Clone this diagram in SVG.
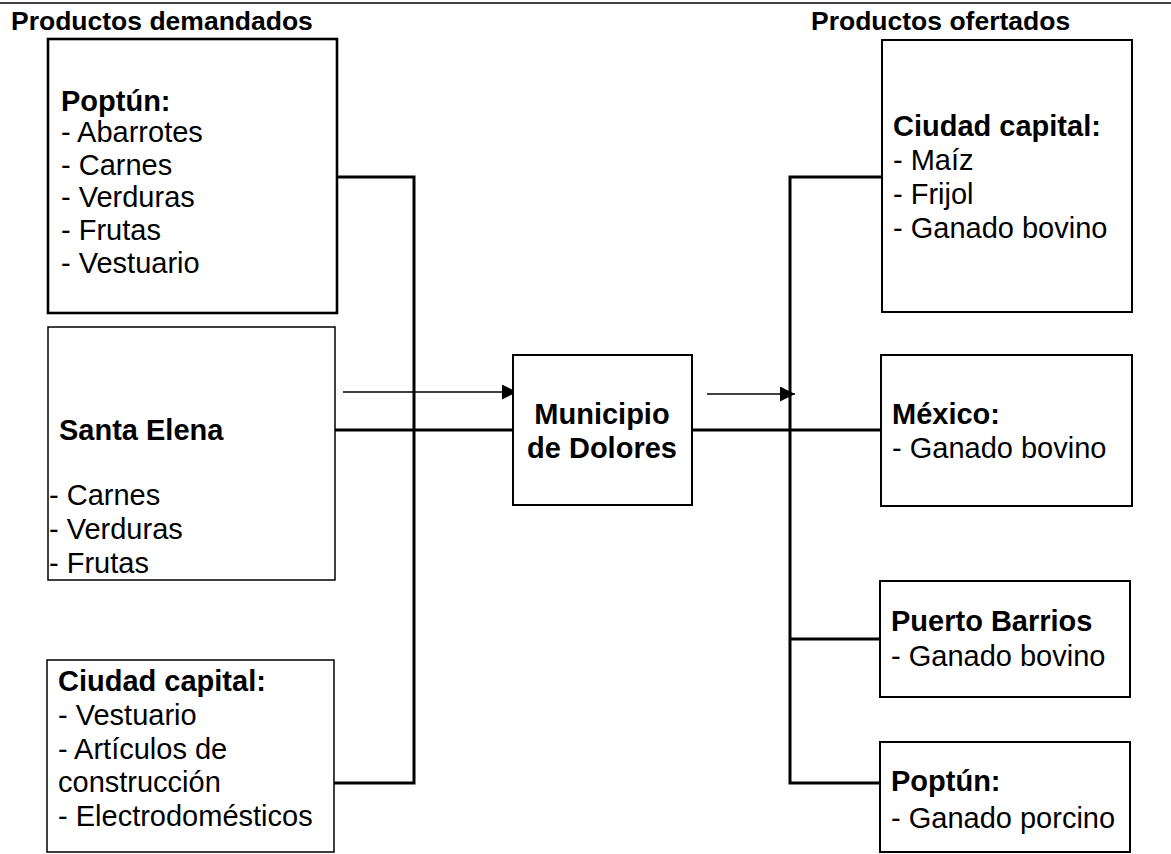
<svg xmlns="http://www.w3.org/2000/svg" width="1171" height="854" viewBox="0 0 1171 854">
<style>
.t{font-family:"Liberation Sans",Arial,sans-serif;font-size:29px;fill:#000}
.b{font-weight:bold}
.h{font-family:"Liberation Sans",Arial,sans-serif;font-size:26.5px;font-weight:bold;fill:#000}
.box{fill:#fff;stroke:#000;stroke-width:2}
.thick{stroke-width:2.6}
.thin{stroke-width:1.5}
.con{fill:none;stroke:#000;stroke-width:3}
.arr{fill:none;stroke:#000;stroke-width:1.6}
</style>
<defs>
<marker id="ah" markerUnits="userSpaceOnUse" markerWidth="16" markerHeight="16" refX="15" refY="7.5" orient="auto">
<path d="M0,0 L15,7.5 L0,15 Z" fill="#000"/>
</marker>
</defs>
<rect width="1171" height="854" fill="#fff"/>
<line x1="0" y1="3" x2="1171" y2="3" stroke="#000" stroke-width="1.5"/>
<text class="h" x="11" y="30">Productos demandados</text>
<text class="h" x="811" y="30">Productos ofertados</text>

<g id="connectors">
<polyline class="con" points="337,177 414,177 414,783 334,783"/>
<line class="con" x1="335" y1="430" x2="513" y2="430"/>
<line class="con" x1="692" y1="430" x2="881" y2="430"/>
<polyline class="con" points="882,177 790,177 790,783 880,783"/>
<line class="con" x1="790" y1="639" x2="880" y2="639"/>
<line class="arr" x1="343" y1="392" x2="517" y2="392" marker-end="url(#ah)"/>
<line class="arr" x1="707" y1="394" x2="795" y2="394" marker-end="url(#ah)"/>
</g>

<g id="poptun-dem">
<rect class="box thick" x="48" y="39" width="289" height="274"/>
<text class="t b" x="61" y="111">Poptún:</text>
<text class="t" x="61" y="142">- Abarrotes</text>
<text class="t" x="61" y="175">- Carnes</text>
<text class="t" x="61" y="207">- Verduras</text>
<text class="t" x="61" y="240">- Frutas</text>
<text class="t" x="61" y="273">- Vestuario</text>
</g>

<g id="santa-elena">
<rect class="box thin" x="48" y="327" width="287" height="253"/>
<text class="t b" x="59" y="440">Santa Elena</text>
<text class="t" x="49" y="505">- Carnes</text>
<text class="t" x="49" y="539">- Verduras</text>
<text class="t" x="49" y="573">- Frutas</text>
</g>

<g id="capital-dem">
<rect class="box thin" x="47" y="660" width="287" height="192"/>
<text class="t b" x="58" y="691">Ciudad capital:</text>
<text class="t" x="58" y="725">- Vestuario</text>
<text class="t" x="58" y="759">- Artículos de</text>
<text class="t" x="58" y="792">construcción</text>
<text class="t" x="58" y="826">- Electrodomésticos</text>
</g>

<g id="municipio">
<rect class="box" x="513" y="355" width="179" height="150"/>
<text class="t b" x="602" y="424" text-anchor="middle">Municipio</text>
<text class="t b" x="602" y="458" text-anchor="middle">de Dolores</text>
</g>

<g id="capital-of">
<rect class="box" x="882" y="40" width="250" height="272"/>
<text class="t b" x="893" y="136">Ciudad capital:</text>
<text class="t" x="893" y="170">- Maíz</text>
<text class="t" x="893" y="204">- Frijol</text>
<text class="t" x="893" y="238">- Ganado bovino</text>
</g>

<g id="mexico">
<rect class="box" x="881" y="355" width="251" height="151"/>
<text class="t b" x="892" y="424">México:</text>
<text class="t" x="892" y="458">- Ganado bovino</text>
</g>

<g id="puerto-barrios">
<rect class="box" x="880" y="581" width="250" height="116"/>
<text class="t b" x="891" y="631">Puerto Barrios</text>
<text class="t" x="891" y="666">- Ganado bovino</text>
</g>

<g id="poptun-of">
<rect class="box" x="880" y="742" width="250" height="110"/>
<text class="t b" x="891" y="791">Poptún:</text>
<text class="t" x="891" y="828">- Ganado porcino</text>
</g>
</svg>
